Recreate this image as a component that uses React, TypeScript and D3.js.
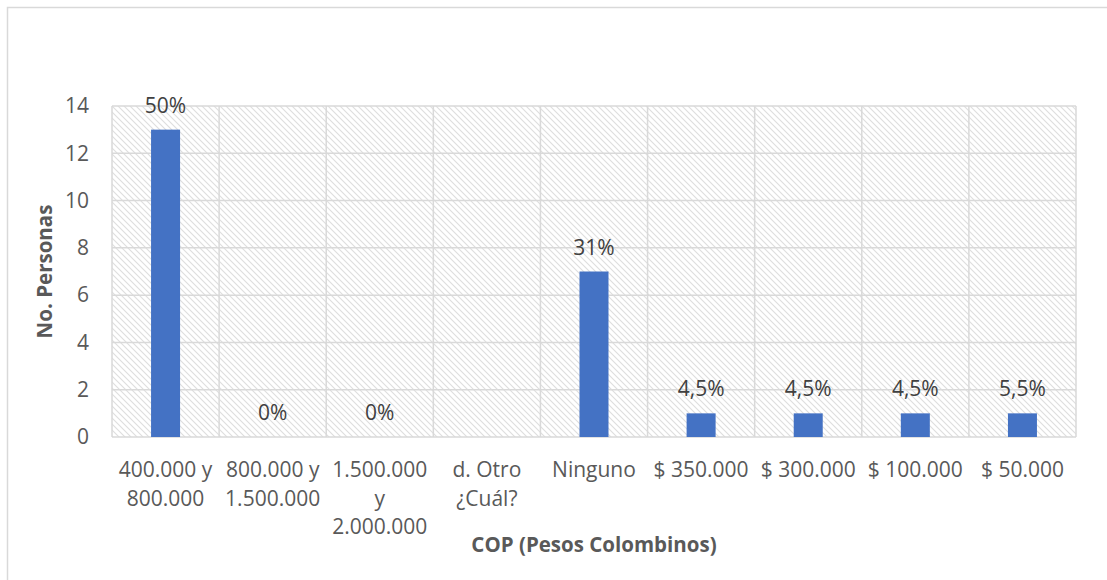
import React, { useEffect, useRef } from 'react';
import * as d3 from 'd3';

const categories: string[][] = [
  ['400.000 y', '800.000'],
  ['800.000 y', '1.500.000'],
  ['1.500.000', 'y', '2.000.000'],
  ['d. Otro', '¿Cuál?'],
  ['Ninguno'],
  ['$ 350.000'],
  ['$ 300.000'],
  ['$ 100.000'],
  ['$ 50.000'],
];
const values: number[] = [13, 0, 0, 0, 7, 1, 1, 1, 1];
const valueLabels: string[] = ['50%', '0%', '0%', '', '31%', '4,5%', '4,5%', '4,5%', '5,5%'];
const yTicks: number[] = [0, 2, 4, 6, 8, 10, 12, 14];

const App: React.FC = () => {
  const svgRef = useRef<SVGSVGElement | null>(null);
  const width = 1107;
  const height = 580;

  useEffect(() => {
    if (!svgRef.current) return;
    const svg = d3.select(svgRef.current);
    svg.selectAll('*').remove();

    const margin = { top: 106, right: 31, bottom: 143, left: 112 };
    const font = '"Open Sans", sans-serif';
    const textColor = '#595959';
    const gridColor = '#d9d9d9';

    // hatch fill for the plot area
    const defs = svg.append('defs');
    const pat = defs
      .append('pattern')
      .attr('id', 'hatch')
      .attr('patternUnits', 'userSpaceOnUse')
      .attr('width', 6)
      .attr('height', 6);
    pat.append('rect').attr('width', 6).attr('height', 6).attr('fill', '#ffffff');
    pat
      .append('path')
      .attr('d', 'M-1,-1 L7,7 M-1,5 L1,7 M5,-1 L7,1')
      .attr('stroke', '#dedede')
      .attr('stroke-width', 1.1);

    // outer chart border
    svg
      .append('rect')
      .attr('x', 7.5)
      .attr('y', 7.5)
      .attr('width', width)
      .attr('height', height)
      .attr('fill', '#ffffff')
      .attr('stroke', '#d9d9d9')
      .attr('stroke-width', 1.5);

    const x = d3
      .scaleBand<number>()
      .domain(d3.range(categories.length))
      .range([margin.left, width - margin.right])
      .paddingInner(0)
      .paddingOuter(0);

    const y = d3
      .scaleLinear()
      .domain([0, 14])
      .range([height - margin.bottom, margin.top]);

    svg
      .append('rect')
      .attr('x', margin.left)
      .attr('y', margin.top)
      .attr('width', width - margin.right - margin.left)
      .attr('height', height - margin.bottom - margin.top)
      .attr('fill', 'url(#hatch)');

    // horizontal gridlines
    svg
      .append('g')
      .selectAll('line')
      .data(yTicks)
      .join('line')
      .attr('x1', margin.left)
      .attr('x2', width - margin.right)
      .attr('y1', (d) => y(d))
      .attr('y2', (d) => y(d))
      .attr('stroke', gridColor)
      .attr('stroke-width', 1.5);

    // vertical gridlines at category boundaries
    const bounds = d3.range(categories.length + 1).map((i) =>
      i < categories.length ? (x(i) as number) : width - margin.right
    );
    svg
      .append('g')
      .selectAll('line')
      .data(bounds)
      .join('line')
      .attr('x1', (d) => d)
      .attr('x2', (d) => d)
      .attr('y1', margin.top)
      .attr('y2', height - margin.bottom)
      .attr('stroke', gridColor)
      .attr('stroke-width', 1.5);

    // bars
    const barW = 29;
    svg
      .append('g')
      .selectAll('rect')
      .data(values)
      .join('rect')
      .attr('x', (_, i) => (x(i) as number) + x.bandwidth() / 2 - barW / 2)
      .attr('y', (d) => y(d))
      .attr('width', barW)
      .attr('height', (d) => y(0) - y(d))
      .attr('fill', '#4472c4');

    // data labels
    svg
      .append('g')
      .selectAll('text')
      .data(values)
      .join('text')
      .attr('x', (_, i) => (x(i) as number) + x.bandwidth() / 2)
      .attr('y', (d) => y(d) - 17)
      .attr('text-anchor', 'middle')
      .style('font-family', font)
      .style('font-size', '21px')
      .style('fill', '#404040')
      .text((_, i) => valueLabels[i]);

    // y tick labels
    svg
      .append('g')
      .selectAll('text')
      .data(yTicks)
      .join('text')
      .attr('x', 89)
      .attr('y', (d) => y(d))
      .attr('dy', '0.35em')
      .attr('text-anchor', 'end')
      .style('font-family', font)
      .style('font-size', '21px')
      .style('fill', textColor)
      .text((d) => d);

    // category labels
    const catG = svg
      .append('g')
      .selectAll('text')
      .data(categories)
      .join('text')
      .attr('text-anchor', 'middle')
      .style('font-family', font)
      .style('font-size', '21px')
      .style('fill', textColor);
    catG
      .selectAll('tspan')
      .data((d, i) => d.map((line) => ({ line, i })))
      .join('tspan')
      .attr('x', (d) => (x(d.i) as number) + x.bandwidth() / 2)
      .attr('y', (_, j) => 477 + j * 28.5)
      .text((d) => d.line);

    // axis titles
    svg
      .append('text')
      .attr('x', (margin.left + width - margin.right) / 2)
      .attr('y', 552)
      .attr('text-anchor', 'middle')
      .style('font-family', font)
      .style('font-size', '20.5px')
      .style('font-weight', 'bold')
      .style('fill', textColor)
      .text('COP (Pesos Colombinos)');

    svg
      .append('text')
      .attr('transform', `translate(52,${(margin.top + height - margin.bottom) / 2}) rotate(-90)`)
      .attr('text-anchor', 'middle')
      .style('font-family', font)
      .style('font-size', '20.5px')
      .style('font-weight', 'bold')
      .style('fill', textColor)
      .text('No. Personas');
  }, []);

  return (
    <svg
      ref={svgRef}
      width={width}
      height={height}
      style={{ position: 'absolute', left: 0, top: 0 }}
    ></svg>
  );
};

export default App;
